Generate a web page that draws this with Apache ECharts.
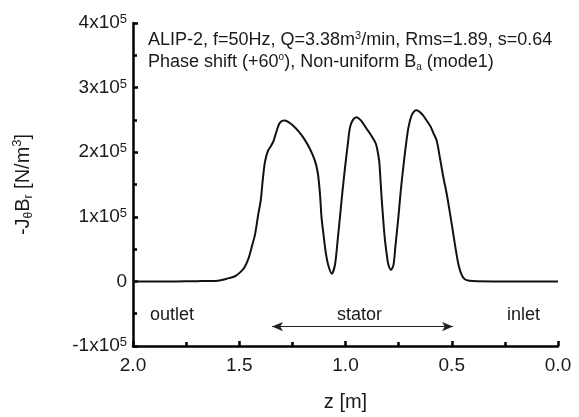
<!DOCTYPE html>
<html>
<head>
<meta charset="utf-8">
<script src="https://cdn.jsdelivr.net/npm/echarts@6/dist/echarts.min.js"></script>
<style>html,body{margin:0;padding:0;background:#fff;}#c{width:579px;height:417px;}</style>
</head>
<body>
<div id="c"></div>
<script>
// z positions [m]
var zValues = [2.0,1.9,1.8,1.7,1.65,1.6,1.56,1.52,1.496,1.475,1.457,1.44,1.426,1.41,1.399,1.39,1.379,1.365,1.35,1.338,1.325,1.31,1.29,1.27,1.246,1.22,1.199,1.17,1.144,1.13,1.12,1.113,1.104,1.093,1.081,1.065,1.05,1.038,1.026,1.014,1.002,0.99,0.979,0.965,0.947,0.93,0.916,0.9,0.885,0.868,0.856,0.848,0.841,0.834,0.828,0.82,0.814,0.806,0.799,0.786,0.774,0.765,0.751,0.74,0.728,0.716,0.704,0.69,0.675,0.665,0.65,0.635,0.618,0.6,0.587,0.571,0.555,0.54,0.524,0.508,0.493,0.48,0.469,0.458,0.446,0.43,0.40,0.3,0.2,0.1,0.0];
// -J_theta B_r values, in units of 1e5 N/m^3
var forceValues = [0,0,0,0.003,0.006,0.01,0.04,0.08,0.14,0.22,0.35,0.55,0.72,1.05,1.25,1.55,1.85,2.02,2.10,2.18,2.32,2.45,2.49,2.47,2.41,2.32,2.23,2.07,1.87,1.67,1.35,1.0,0.74,0.45,0.25,0.12,0.25,0.6,1.0,1.4,1.77,2.1,2.38,2.50,2.54,2.50,2.44,2.36,2.29,2.20,2.12,2.0,1.85,1.5,1.2,0.85,0.63,0.42,0.27,0.18,0.26,0.55,1.0,1.4,1.77,2.1,2.38,2.56,2.64,2.65,2.62,2.57,2.49,2.40,2.30,2.18,1.90,1.62,1.36,1.05,0.74,0.47,0.27,0.14,0.06,0.02,0.005,0,0,0,0];
var yTicks = [-1, 0, 1, 2, 3, 4]; // x1e5
var xTicks = [0.0, 0.5, 1.0, 1.5, 2.0];
var statorArrow = {zStart: 1.346, zEnd: 0.494, level: -0.70};

var FONT = '"Liberation Sans", Arial, Helvetica, sans-serif';
var seriesData = zValues.map(function (z, i) { return [z, forceValues[i] * 1e5]; });

var chart = echarts.init(document.getElementById('c'), null, {renderer: 'canvas'});
var supStyle = {fontSize: 13, fontFamily: FONT, color: '#1a1a1a', verticalAlign: 'top', lineHeight: 20};

chart.setOption({
  animation: false,
  backgroundColor: '#fff',
  grid: {left: 133, right: 21, top: 23, bottom: 71},
  xAxis: {
    type: 'value', inverse: true, min: 0, max: 2, interval: 0.5,
    name: 'z [m]', nameLocation: 'middle', nameGap: 46,
    nameTextStyle: {fontSize: 20, fontFamily: FONT, color: '#1a1a1a'},
    axisLine: {show: true, onZero: false, lineStyle: {color: '#000', width: 2.5}},
    axisTick: {show: true, inside: true, length: 5, lineStyle: {color: '#000', width: 2.5}},
    minorTick: {show: true, splitNumber: 2, length: 4, lineStyle: {color: '#000', width: 2.5}},
    splitLine: {show: false},
    axisLabel: {margin: 10, fontSize: 19, fontFamily: FONT, color: '#1a1a1a',
      formatter: function (v) { return xTicks.indexOf(v) >= 0 ? v.toFixed(1) : ''; }}
  },
  yAxis: {
    type: 'value', min: -1e5, max: 4e5, interval: 1e5, position: 'left',
    name: '-J{sub|θ}B{sub|r} [N/m{sup|3}]', nameLocation: 'middle', nameGap: 98, nameRotate: 90,
    nameTextStyle: {fontSize: 20, fontFamily: FONT, color: '#1a1a1a', lineHeight: 24,
      rich: {sub: {fontSize: 12, fontFamily: FONT, color: '#1a1a1a', verticalAlign: 'bottom', lineHeight: 24},
             sup: {fontSize: 13, fontFamily: FONT, color: '#1a1a1a', verticalAlign: 'top', lineHeight: 24}}},
    axisLine: {show: true, onZero: false, lineStyle: {color: '#000', width: 2.5}},
    axisTick: {show: true, inside: true, length: 5, lineStyle: {color: '#000', width: 2.5}},
    minorTick: {show: true, splitNumber: 2, length: 4, lineStyle: {color: '#000', width: 2.5}},
    splitLine: {show: false},
    axisLabel: {margin: 6, fontSize: 19, fontFamily: FONT, color: '#1a1a1a', lineHeight: 20,
      formatter: function (v) {
        var k = Math.round(v / 1e5);
        if (yTicks.indexOf(k) < 0) return '';
        if (k === 0) return '{b|0}';
        return '{b|' + k + 'x10}{s|5}';
      },
      rich: {b: {fontSize: 19, fontFamily: FONT, color: '#1a1a1a', lineHeight: 20}, s: supStyle}}
  },
  series: [{
    type: 'line', data: seriesData, showSymbol: false, smooth: 0.3,
    lineStyle: {color: '#111', width: 2},
    markLine: {
      silent: true, symbol: ['arrow', 'arrow'], symbolSize: [7, 11],
      label: {show: false},
      lineStyle: {color: '#222', width: 1.2, type: 'solid'},
      data: [[{coord: [statorArrow.zStart, statorArrow.level * 1e5]}, {coord: [statorArrow.zEnd, statorArrow.level * 1e5]}]]
    }
  }],
  graphic: [
    {type: 'text', left: 148, top: 30, style: {
      text: 'ALIP-2, f=50Hz, Q=3.38m{sup|3}/min, Rms=1.89, s=0.64',
      font: '18px ' + FONT, fill: '#1a1a1a', lineHeight: 20,
      rich: {sup: {fontSize: 11, fontFamily: FONT, fill: '#1a1a1a', verticalAlign: 'top', lineHeight: 20}}}},
    {type: 'text', left: 148, top: 52, style: {
      text: 'Phase shift (+60{sup|o}), Non-uniform B{sub|a} (mode1)',
      font: '18px ' + FONT, fill: '#1a1a1a', lineHeight: 20,
      rich: {sup: {fontSize: 10, fontFamily: FONT, fill: '#1a1a1a', verticalAlign: 'top', lineHeight: 20},
             sub: {fontSize: 10, fontFamily: FONT, fill: '#1a1a1a', verticalAlign: 'bottom', lineHeight: 20}}}},
    {type: 'text', left: 150, top: 306, style: {text: 'outlet', font: '18px ' + FONT, fill: '#1a1a1a'}},
    {type: 'text', left: 337, top: 306, style: {text: 'stator', font: '18px ' + FONT, fill: '#1a1a1a'}},
    {type: 'text', left: 507, top: 306, style: {text: 'inlet', font: '18px ' + FONT, fill: '#1a1a1a'}}
  ]
});
</script>
</body>
</html>
